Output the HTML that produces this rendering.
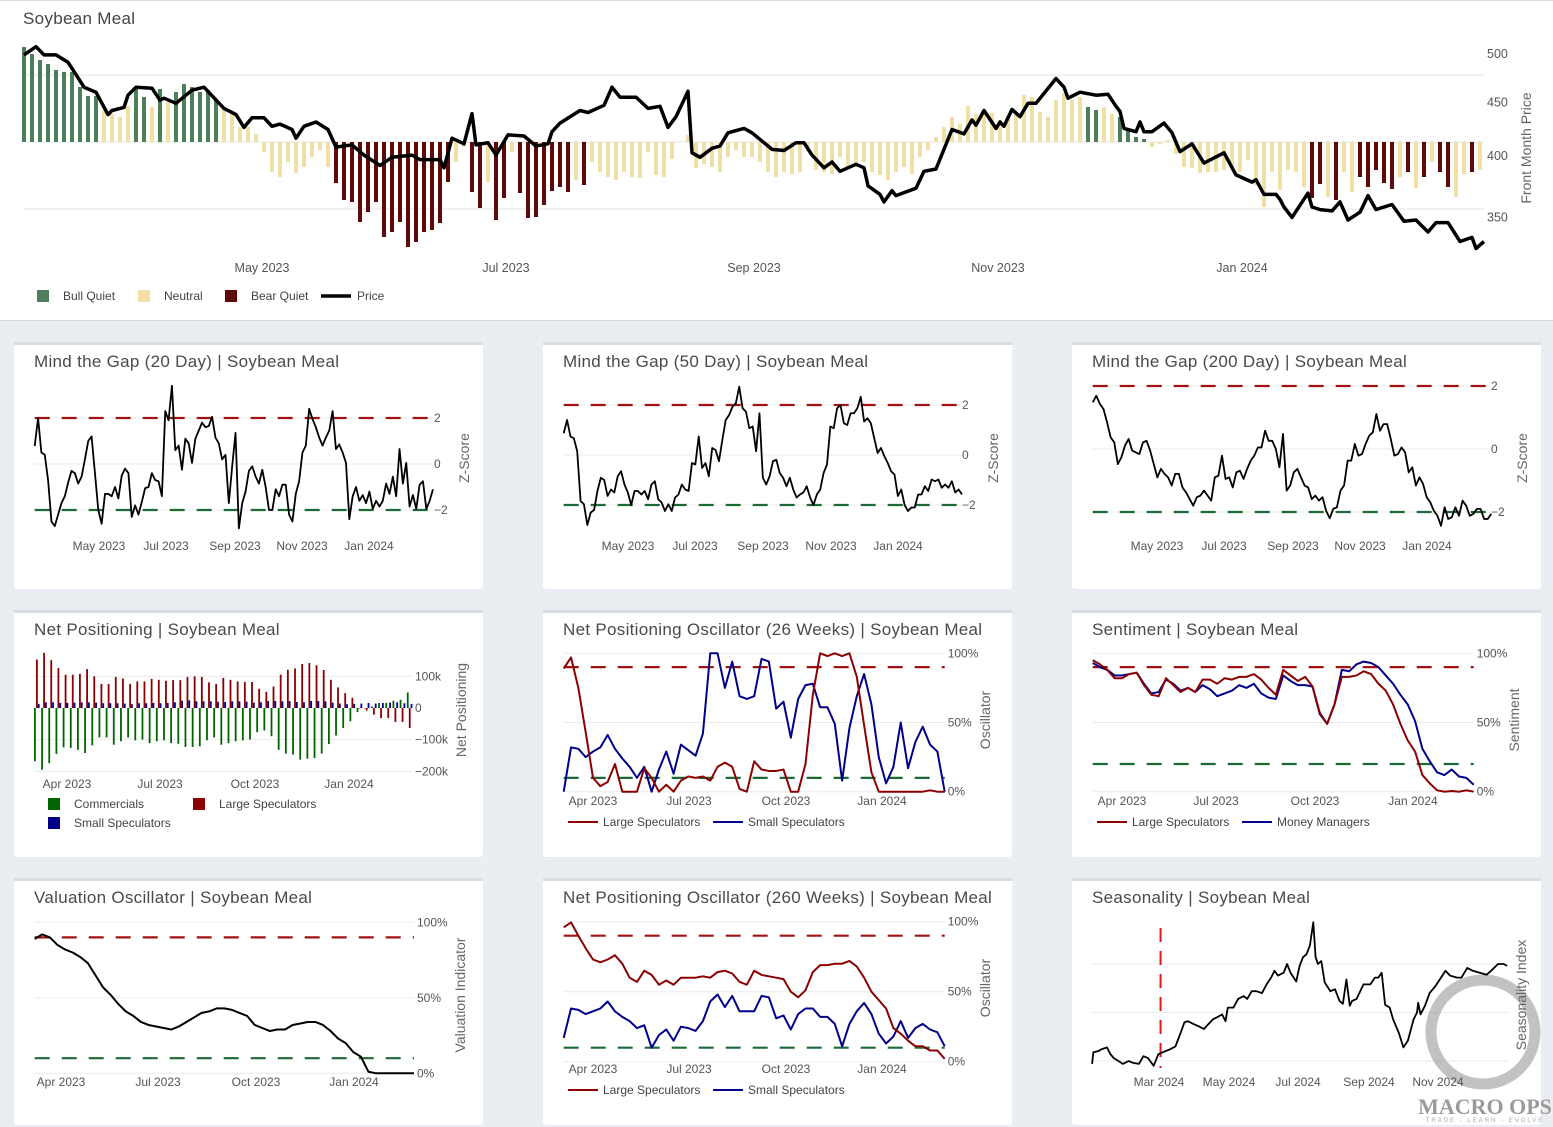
<!DOCTYPE html>
<html><head><meta charset="utf-8"><title>Soybean Meal Dashboard</title>
<style>
html,body{margin:0;padding:0;background:#eaedf1;}
svg{display:block;font-family:"Liberation Sans",sans-serif;}
</style></head>
<body>
<svg id="dash" width="1553" height="1127" viewBox="0 0 1553 1127" xmlns="http://www.w3.org/2000/svg">
<rect x="0" y="0" width="1553" height="1127" fill="#eaedf1"/>
<rect x="0" y="0" width="1553" height="321" fill="#ffffff"/>
<line x1="0" y1="0.5" x2="1553" y2="0.5" stroke="#d6dae0"/>
<line x1="0" y1="320.5" x2="1553" y2="320.5" stroke="#d6dae0"/>
<text x="23" y="24" font-size="17" letter-spacing="0.3" fill="#444">Soybean Meal</text>
</svg>
<script>
// ===== Top chart data =====
const priceDays=[0,3,5,8,11,13,15,18,21,22,25,26,28,32,34,35,38,42,45,50,53,55,57,60,62,64,67,68,70,73,76,78,82,85,89,92,97,99,104,105,107,110,112,113,116,118,121,125,128,131,132,134,139,141,145,147,149,153,156,159,161,163,166,167,169,172,174,176,180,182,185,187,190,193,195,197,200,202,204,208,210,211,214,215,217,218,223,225,228,232,235,237,238,240,243,244,245,247,249,251,253,258,260,261,264,268,271,273,274,275,278,279,280,282,285,287,289,292,295,300,303,307,308,310,313,314,315,317,321,322,324,327,329,331,334,336,338,342,345,348,351,353,356,359,362,363,365];
const priceVals=[499,508,499,499,491,478,465,460,438,442,445,457,465,464,452,454,449,462,465,444,438,426,435,435,427,429,424,416,427,431,424,408,410,401,392,399,401,397,397,390,416,411,439,410,412,401,419,418,409,411,422,430,442,440,447,465,455,455,444,446,426,436,461,403,399,407,409,421,425,421,412,406,405,412,412,401,390,395,387,393,390,375,368,362,371,367,373,387,389,424,420,433,428,442,425,431,427,443,436,449,449,474,465,454,460,457,458,446,441,425,422,431,422,422,430,421,404,411,394,403,384,378,380,368,368,364,358,350,369,358,356,355,362,348,354,367,356,360,347,348,339,346,346,332,335,327,332];
const barVals=[95,88,82,78,72,70,70,55,46,46,32,28,25,36,55,45,35,53,40,50,58,55,50,52,42,35,30,15,15,8,-10,-30,-35,-20,-31,-25,-15,-8,-25,-41,-58,-60,-80,-70,-60,-95,-90,-80,-105,-100,-90,-88,-81,-40,-20,-5,-50,-66,-40,-78,-56,-10,-51,-76,-75,-63,-49,-45,-50,-38,-43,-20,-30,-35,-38,-30,-35,-36,-10,-33,-35,-17,0,7,-26,-22,-25,-30,-15,-8,-15,-15,-20,-30,-35,-30,-32,-30,-10,-28,-30,-32,-15,-25,-25,-20,-30,-33,-38,-30,-25,-32,-15,-8,5,15,25,18,36,28,30,29,22,25,30,47,45,30,25,42,49,42,45,35,32,35,28,25,12,5,3,-5,-2,2,-12,-25,-26,-31,-30,-30,-28,-25,-30,-18,-43,-65,-30,-48,-28,-30,-45,-56,-42,-55,-58,-30,-50,-35,-45,-28,-41,-47,-35,-30,-46,-35,-20,-30,-45,-55,-32,-30,-28];
const barRegime="GGGGGGGGGGNNNNGGNGNGGGGGGNNNNNNNNNNNNNNBBBBBBBBBBBBBBBNNBBNBBNBBBBBBBNBNNNNNNNNNNNNNNNNNNNNNNNNNNNNNNNNNNNNNNNNNNNNNNNNNNNNNNNNNNNNNNGGNNGGGGNNNNNNNNNNNNNNNNNNNNBBNBNNBBBBBNBNBNBBNNBNNNBBNNN".split("");
const topTickLabels=["May 2023","Jul 2023","Sep 2023","Nov 2023","Jan 2024"];
const topTickDays=[59.5,120.5,182.5,243.5,304.5];
const priceTicks=[500,450,400,350];

// ===== Mind the Gap =====
const mtg20=[0.78,2.0,0.5,0.4,-0.7,-2.5,-2.7,-2.2,-1.7,-1.4,-0.8,-0.3,-0.4,-0.85,-0.55,0.2,1.0,1.2,-0.4,-2.0,-2.6,-1.3,-1.3,-1.4,-1.0,-1.5,-0.5,-0.2,-0.4,-2.3,-1.8,-2.2,-1.65,-1.05,-1.0,-0.4,-0.7,-0.75,-1.4,2.3,1.9,3.4,0.6,0.8,-0.25,1.1,0.9,0.05,1.1,1.45,1.8,1.6,1.65,2.05,1.15,0.9,0.2,0.4,-1.7,-0.1,1.35,-2.8,-1.7,-1.2,-0.3,-0.1,-0.55,-0.85,-0.25,-1.0,-2.0,-2.0,-1.1,-1.4,-0.9,-0.9,-2.2,-2.5,-1.3,-0.75,0.5,0.8,2.4,1.95,1.6,1.15,0.8,1.15,1.45,2.3,0.65,0.85,0.5,0.05,-2.4,-1.4,-1.0,-1.6,-1.35,-1.7,-1.2,-1.95,-1.6,-1.85,-1.6,-0.85,-1.3,-0.55,-1.4,0.65,-0.85,0.05,-1.85,-1.35,-1.95,-0.9,-0.75,-1.95,-1.6,-1.1];
const mtg50=[0.87,1.4,0.74,0.67,0.15,-1.84,-1.97,-2.8,-2.3,-2.2,-1.44,-0.91,-1.0,-1.64,-1.38,-1.5,-0.85,-0.65,-1.18,-1.5,-2.0,-1.44,-1.44,-1.58,-1.44,-1.77,-1.18,-1.05,-1.77,-1.9,-2.24,-1.97,-2.24,-1.7,-1.58,-1.18,-1.38,-1.44,-0.32,-0.38,0.74,-0.52,-0.32,-0.85,0.28,0.2,-0.25,0.6,1.4,1.6,1.93,2.07,2.73,1.87,1.73,1.07,1.14,0.15,1.67,-0.91,-1.18,-0.85,-0.25,-0.19,-0.72,-0.91,-1.25,-0.91,-1.38,-1.7,-1.58,-1.5,-1.25,-1.7,-2.0,-1.58,-1.38,-0.72,-0.38,1.14,1.07,1.87,2.0,1.27,1.2,1.67,1.67,1.87,2.33,1.34,1.47,1.27,0.67,0.08,0.28,-0.05,-0.32,-0.65,-0.78,-1.64,-1.38,-2.0,-2.24,-2.1,-2.1,-1.58,-1.58,-1.25,-1.44,-0.98,-1.05,-0.98,-1.31,-1.18,-1.31,-1.05,-1.5,-1.38,-1.58];
const mtg200=[1.48,1.69,1.43,1.27,0.85,0.37,0.21,-0.48,-0.26,0.11,0.32,-0.05,-0.11,-0.16,0.21,0.26,-0.05,-0.48,-0.9,-0.63,-0.79,-0.9,-1.16,-0.79,-0.79,-1.22,-1.38,-1.59,-1.8,-1.53,-1.48,-1.32,-1.48,-1.64,-0.9,-0.85,-0.21,-0.95,-0.9,-1.22,-0.74,-0.69,-0.95,-0.63,-0.37,-0.21,0.05,0.05,0.58,0.26,0.26,0.0,-0.58,0.48,-1.32,-1.16,-0.74,-0.63,-0.9,-1.16,-1.22,-1.59,-1.48,-1.64,-1.53,-1.96,-2.2,-1.9,-1.85,-1.32,-1.16,-0.37,-0.37,0.16,-0.21,-0.16,0.16,0.42,0.53,1.11,0.58,0.79,0.79,0.32,-0.21,-0.16,0.05,-0.11,-0.74,-0.58,-1.16,-0.9,-1.11,-1.53,-1.69,-1.96,-2.12,-2.44,-1.85,-2.22,-2.17,-1.85,-2.12,-1.64,-1.8,-2.12,-2.06,-1.9,-1.9,-2.22,-2.22,-2.06];
const mtgYTicks=[2,0,-2];

// ===== Net positioning (k contracts) =====
const npCommercials=[-168,-195,-174,-145,-124,-126,-132,-142,-118,-93,-93,-116,-105,-93,-102,-100,-111,-105,-102,-111,-113,-123,-123,-121,-102,-93,-116,-111,-105,-102,-100,-76,-71,-89,-132,-144,-147,-163,-160,-158,-144,-114,-87,-63,-42,-13,0,5,16,16,23,26,49];
const npLargeSpec=[153,174,151,126,105,105,108,123,100,76,76,98,93,76,84,84,92,89,86,88,88,98,100,98,81,76,95,89,84,82,82,61,51,68,105,121,125,139,142,135,120,89,65,47,32,0,-8,-21,-32,-32,-44,-44,-63];
const npSmallSpec=[13,18,18,16,16,17,18,18,17,15,15,15,14,12,15,15,16,15,16,18,23,24,21,21,21,20,19,21,21,20,17,18,22,22,21,22,19,18,22,22,21,17,14,12,13,14,16,14,16,17,18,15,13];
const npYTicks=[100,0,-100,-200];
const npYLabels=["100k","0","\u2212100k","\u2212200k"];

// ===== Oscillators (%) =====
const npo26Large=[89,97,75,43,10,4,7,20,0,0,0,17,10,0,5,0,8,11,10,11,8,18,21,18,2,0,22,16,15,15,16,0,0,20,70,100,98,100,98,100,83,48,14,0,0,0,0,0,0,0,1,0,0];
const npo26Small=[0,32,31,25,29,32,41,31,24,18,10,18,0,16,29,13,34,30,26,42,100,100,75,94,69,67,69,96,94,60,65,39,67,77,78,61,61,49,8,46,69,85,63,25,6,18,50,17,36,47,34,29,0];
const sentLarge=[95,92,88,82,82,85,86,77,70,69,82,77,72,75,72,81,81,78,82,81,83,83,85,81,75,70,88,84,80,83,76,57,49,63,83,83,84,87,85,78,73,63,49,37,29,12,6,1,0,0.5,0,1,0];
const sentManagers=[93,90,88,84,84,85,86,78,71,72,81,78,73,75,72,77,74,69,71,73,77,75,78,71,68,67,84,80,77,77,76,56,49,63,88,87,92,94,93,90,84,78,70,63,51,31,22,14,12,16,11,10,5];
const valuation=[89,92,90,85,82,80,77,73,65,57,52,46,41,38,34,32,31,30,29,31,34,37,40,41,43,43,42,40,38,32,30,28,29,29,32,33,34,34,32,28,23,20,14,11,1,0,0,0,0,0,0];
const npo260Large=[96,99.5,90,81,73,71,73,76,70,60,57,65,62,55,58,55,60,60,60,61,60,64,65,63,57,55,65,62,61,60,59,50,46,51,64,69,69,70,70,72,68,60,50,44,38,24,20,15,11,11,8,8,2];
const npo260Small=[17,38,37,34,36,38,43,36,32,29,24,26,10,19,23,15,25,24,22,29,43,48,39,47,36,36,36,47,46,31,33,23,34,38,38,32,32,27,11,27,36,42,34,20,13,18,29,17,24,27,23,21,11];
const pctTicks=[100,50,0];

// ===== Seasonality =====
const seasDays=[1,2,6,9,14,17,20,24,28,33,37,42,46,50,55,59,65,69,74,78,82,85,90,94,99,103,107,112,115,118,120,125,129,134,137,141,145,150,154,158,161,164,169,172,175,180,183,186,189,192,195,197,199,202,205,210,214,218,221,224,227,229,233,239,245,249,252,255,258,262,265,270,274,278,283,286,287,289,293,297,302,306,311,315,321,325,330,335,341,347,351,357,362,365];
const seasVals=[99.7,100.9,101.0,101.2,101.4,100.7,100.3,100.0,99.7,100.0,99.8,99.7,100.5,100.3,99.5,100.7,101.0,101.2,101.5,102.7,104.0,104.1,103.8,103.6,103.3,103.8,104.3,104.6,104.8,104.1,105.5,105.5,106.4,106.7,106.4,107.2,107.2,107.0,107.9,108.6,109.3,108.8,109.1,110.0,109.1,108.2,109.8,110.7,111.0,111.9,114.3,110.7,110.0,110.3,108.1,107.2,107.4,106.2,105.9,108.4,105.7,106.2,106.4,107.9,107.9,108.6,108.6,109.1,105.8,105.5,104.3,102.9,101.4,102.1,104.3,105.0,106.0,104.8,105.7,107.0,107.7,108.4,109.3,108.8,108.6,108.6,109.6,109.3,109.1,108.9,109.3,110.0,110.0,109.8];
const seasTodayDay=61;

// ===== rendering =====
const NS="http://www.w3.org/2000/svg";
const svg=document.getElementById("dash");
function mk(tag,attrs,parent){const e=document.createElementNS(NS,tag);for(const k in attrs)e.setAttribute(k,attrs[k]);(parent||svg).appendChild(e);return e;}
function txt(x,y,s,size,fill,anchor,extra){const t=mk("text",Object.assign({x:x,y:y,"font-size":size,fill:fill,"text-anchor":anchor||"start"},extra||{}));t.textContent=s;return t;}
function evenPath(vals,x0,x1,yf){const n=vals.length;return vals.map((v,i)=>(i?"L":"M")+(x0+i*(x1-x0)/(n-1)).toFixed(2)+","+yf(v).toFixed(2)).join("");}

// --- top chart
const xDay=d=>24+d*4;
const yPrice=p=>54+458*Math.log(500/p);
const yBar=v=>142-v;
[75,142,209].forEach(g=>{const l=mk("line",{x1:24,x2:1484,y1:g,y2:g,stroke:"#e6e6e6"});

});
const regColor={G:"#4e7d59",N:"#f0e0a6",B:"#5e0a0a"};
barVals.forEach((v,i)=>{const y=yBar(v),y0=yBar(0);const r=mk("rect",{x:xDay(i*2)-2,y:Math.min(y,y0),width:4,height:Math.max(Math.abs(y-y0),0.5),fill:regColor[barRegime[i]]||regColor.N});

});
const nPrice=Math.min(priceDays.length,priceVals.length);
let pd="";
for(let i=0;i<nPrice;i++){pd+=(i?"L":"M")+xDay(priceDays[i]).toFixed(1)+","+yPrice(priceVals[i]).toFixed(1);}
const pl=mk("path",{d:pd,fill:"none",stroke:"#000","stroke-width":3.5,"stroke-linejoin":"round"});


topTickLabels.forEach((s,i)=>{const t=txt(xDay(topTickDays[i]),272,s,12.5,"#555","middle");

});
priceTicks.forEach(p=>{const t=txt(1487,yPrice(p)+4,String(p),12.5,"#555");

});
const pt=txt(1531,148,"Front Month Price",14,"#666","middle",{transform:"rotate(-90 1531 148)"});


[[37,regColor.G,63,"Bull Quiet","legend-bull-quiet"],[138,regColor.N,164,"Neutral","legend-neutral"],[225,regColor.B,251,"Bear Quiet","legend-bear-quiet"]].forEach(a=>{
const r=mk("rect",{x:a[0],y:290,width:12,height:12,fill:a[1]});


const t=txt(a[2],300,a[3],12,"#444");

});
const lp=mk("line",{x1:321,x2:351,y1:296,y2:296,stroke:"#000","stroke-width":3.5});


const lpt=txt(357,300,"Price",12,"#444");



// --- cards
function card(x,y,title,name){
const g=mk("g",{});


mk("rect",{x:x,y:y,width:469,height:247,rx:3,fill:"#fff"},g);
mk("rect",{x:x,y:y,width:469,height:3,fill:"#d9dde3"},g);
const t=txt(x+20,y+25,title,17,"#4a4a4a","start",{"letter-spacing":"0.3"});


return g;}
function hline(x0,x1,y,color,dash,name){const l=mk("line",{x1:x0,x2:x1,y1:y,y2:y,stroke:color,"stroke-width":dash?2.2:1});if(dash)l.setAttribute("stroke-dasharray","15,12");

return l;}
function xticks(labels,xs,y,name){labels.forEach((s,i)=>{const t=txt(xs[i],y+4,s,12,"#555","middle");

});}
function ytitle(x,y,s,name){const t=txt(x,y,s,14,"#666","middle",{transform:"rotate(-90 "+x+" "+y+")"});

}
function series(d,color,w,name){const p=mk("path",{d:d,fill:"none",stroke:color,"stroke-width":w,"stroke-linejoin":"round"});

}
const RED="#a31212",GRN="#1d6a36",DRED="#8b0000",BLUE="#00008b";
const dateLbl=["May 2023","Jul 2023","Sep 2023","Nov 2023","Jan 2024"];
const qLbl=["Apr 2023","Jul 2023","Oct 2023","Jan 2024"];

// MTG cards
function mtgCard(cx,title,vals,x0,x1,y0,k,lblX,ticksX,name){
card(cx,342,title,name);
const yf=v=>y0-v*k;
mtgYTicks.forEach(v=>{hline(x0,x1,yf(v),"#ebebeb",false,name+'-gridline');
const t=txt(lblX,yf(v)+4,v<0?"\u2212"+(-v):String(v),12,"#555");

});
hline(x0,x1,yf(2),RED,true,name+'-upper-threshold');
hline(x0,x1,yf(-2),GRN,true,name+'-lower-threshold');
series(evenPath(vals,x0,x1,yf),"#000",1.8,name+'-zscore-line');
xticks(dateLbl,ticksX,546,name+'-x-tick');
ytitle(cx+455,458,"Z-Score",name+'-y-title');}
mtgCard(14,"Mind the Gap (20 Day)  |  Soybean Meal",mtg20,34.7,433,464,23,434,[99,166,235,302,369],"mtg-20-card");
mtgCard(543,"Mind the Gap (50 Day)  |  Soybean Meal",mtg50,563.7,962,455,25,962,[628,695,763,831,898],"mtg-50-card");
mtgCard(1072,"Mind the Gap (200 Day)  |  Soybean Meal",mtg200,1092.7,1491.3,449,31.5,1491,[1157,1224,1293,1360,1427],"mtg-200-card");

// Net positioning card
card(14,610,"Net Positioning  |  Soybean Meal","net-positioning-card");
const yNP=k=>708-k*0.3167;
npYTicks.forEach((v,i)=>{hline(34,412,yNP(v),"#ebebeb",false,'net-positioning-gridline');
const t=txt(415,yNP(v)+4,npYLabels[i],12,"#555");

});
function npBars(vals,off,color,name){vals.forEach((v,i)=>{const x=34+i*7.17+off;const y=yNP(v),z=yNP(0);const r=mk("rect",{x:x,y:Math.min(y,z),width:1.8,height:Math.max(Math.abs(y-z),0.5),fill:color});

});}
npBars(npCommercials,0,"#006400","commercials-bar");
npBars(npLargeSpec,2,"#8b0000","large-speculators-bar");
npBars(npSmallSpec,3.8,"#00008b","small-speculators-bar");
xticks(["Apr 2023","Jul 2023","Oct 2023","Jan 2024"],[67,160,255,349],784,'net-positioning-x-tick');
ytitle(466,710,"Net Positioning",'net-positioning-y-title');
[[48,798,"#006400",74,"Commercials","legend-commercials"],[193,798,"#8b0000",219,"Large Speculators","legend-large-speculators"],[48,817,"#00008b",74,"Small Speculators","legend-small-speculators"]].forEach(a=>{
const r=mk("rect",{x:a[0],y:a[1],width:12,height:12,fill:a[2]});


const t=txt(a[3],a[1]+10,a[4],12,"#444");

});

// Percentage oscillator cards
function pctCard(cx,cy,title,name,x0,x1,yZero,yHundred,hi,lo,s1,c1,n1,s2,c2,n2,tickY,ticksX,ytl,ytX,ytY,leg,legY){
card(cx,cy,title,name);
const yf=p=>yZero-p*(yZero-yHundred)/100;
pctTicks.forEach(v=>{hline(x0,x1,yf(v),"#ebebeb",false,name+'-gridline');
const t=txt(x1+3,yf(v)+4,v+"%",12,"#555");

});
hline(x0,x1,yf(hi),RED,true,name+'-upper-threshold');
hline(x0,x1,yf(lo),GRN,true,name+'-lower-threshold');
if(s2)series(evenPath(s2,x0,x1,yf),c2,2,name+'-'+n2);
series(evenPath(s1,x0,x1,yf),c1,2,name+'-'+n1);
xticks(qLbl,ticksX,tickY,name+'-x-tick');
ytitle(ytX,ytY,ytl,name+'-y-title');
if(leg){leg.forEach(a=>{const l=mk("line",{x1:a[0],x2:a[0]+30,y1:legY,y2:legY,stroke:a[1],"stroke-width":2});


const t=txt(a[0]+35,legY+4,a[2],12,"#444");

});}
}
pctCard(543,610,"Net Positioning Oscillator (26 Weeks)  |  Soybean Meal","npo-26-card",563.7,944.7,791.7,653.3,90,10,npo26Large,DRED,"large-speculators-line",npo26Small,BLUE,"small-speculators-line",801,[593,689,786,882],"Oscillator",990,720,[[568,DRED,"Large Speculators","npo26-legend-large"],[713,BLUE,"Small Speculators","npo26-legend-small"]],822);
pctCard(1072,610,"Sentiment  |  Soybean Meal","sentiment-card",1092.7,1473.7,791.7,653.3,90,20,sentLarge,DRED,"large-speculators-line",sentManagers,BLUE,"money-managers-line",801,[1122,1216,1315,1413],"Sentiment",1519,720,[[1097,DRED,"Large Speculators","sentiment-legend-large"],[1242,BLUE,"Money Managers","sentiment-legend-managers"]],822);
pctCard(14,878,"Valuation Oscillator  |  Soybean Meal","valuation-card",34.7,414,1073.3,922.3,90,10,valuation,"#000","valuation-line",null,null,null,1082,[61,158,256,354],"Valuation Indicator",465,995,null,0);
pctCard(543,878,"Net Positioning Oscillator (260 Weeks)  |  Soybean Meal","npo-260-card",563.7,944.7,1061.7,921.7,90,10,npo260Large,DRED,"large-speculators-line",npo260Small,BLUE,"small-speculators-line",1069,[593,689,786,882],"Oscillator",990,988,[[568,DRED,"Large Speculators","npo260-legend-large"],[713,BLUE,"Small Speculators","npo260-legend-small"]],1090);

// Seasonality card
card(1072,878,"Seasonality  |  Soybean Meal","seasonality-card");
const xS=d=>1091+d*1.14;
const yS=v=>1061-(v-100)*9.7;
[100,105,110].forEach(v=>hline(1092,1508,yS(v),"#ebebeb",false,'seasonality-gridline'));
const wm=mk("circle",{cx:1483,cy:1032,r:52,fill:"none",stroke:"#9a9a9a","stroke-width":11,opacity:0.6});


const today=mk("line",{x1:xS(seasTodayDay),x2:xS(seasTodayDay),y1:928,y2:1068,stroke:"#e8141c","stroke-width":2,"stroke-dasharray":"14,9"});


const nS=Math.min(seasDays.length,seasVals.length);
let sd="";
for(let i=0;i<nS;i++){sd+=(i?"L":"M")+xS(seasDays[i]).toFixed(1)+","+yS(seasVals[i]).toFixed(1);}
series(sd,"#000",1.8,'seasonality-line');
xticks(["Mar 2024","May 2024","Jul 2024","Sep 2024","Nov 2024"],[1159,1229,1298,1369,1438],1082,'seasonality-x-tick');
ytitle(1526,995,"Seasonality Index",'seasonality-y-title');
const wt=txt(1485,1114,"MACRO OPS",22,"#9a9a9a","middle",{"font-family":"Liberation Serif, serif","font-weight":"bold"});


const ws=txt(1485,1122,"TRADE  -  LEARN  -  EVOLVE",6,"#aaa","middle",{"letter-spacing":"2"});


</script>
</body></html>
